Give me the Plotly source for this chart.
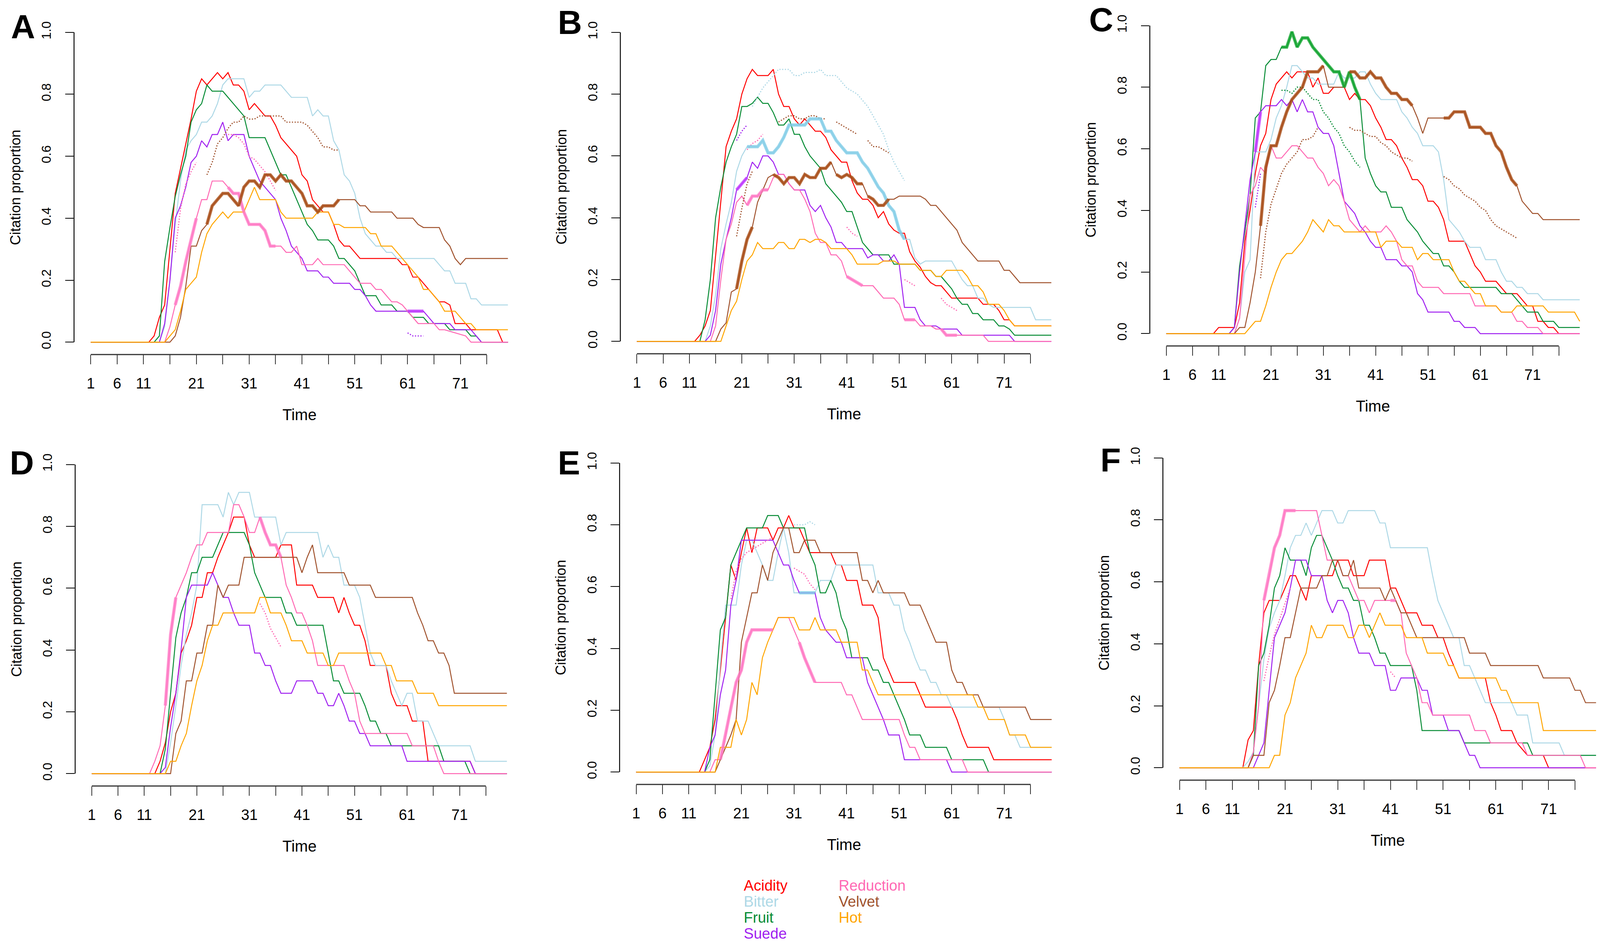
import numpy as np
import plotly.graph_objects as go

W, H = 4279, 2433
S = 1 / 1.05  # css-px to screen-px compensation for sizes

SERIES = ["Acidity", "Bitter", "Fruit", "Suede", "Reduction", "Velvet", "Hot"]
COLORS = ["#FF0000", "#ADD8E6", "#078C35", "#A020F0", "#FF69B4", "#A0522D", "#FFA500"]
THICK_COLORS = ["#FF0000", "#7FCDE8", "#0FA52C", "#C23BFF", "#FF7AC6", "#A84A12", "#FFA500"]

X_TICKS = [1, 6, 11, 16, 21, 26, 31, 36, 41, 46, 51, 56, 61, 66, 71, 76]
X_LABELS = ["1", "6", "11", "", "21", "", "31", "", "41", "", "51", "", "61", "", "71", ""]
Y_TICKS = [0, 0.2, 0.4, 0.6, 0.8, 1.0]
Y_LABELS = ["0.0", "0.2", "0.4", "0.6", "0.8", "1.0"]

# ---------------- Panel A ----------------
A_acidity = [(1,0),(12,0),(13,0.02),(14,0.08),(15,0.12),(16,0.30),(17,0.48),(18,0.56),(19,0.64),(20,0.72),(21,0.81),(22,0.85),(23,0.83),(24,0.85),(25,0.87),(26,0.85),(27,0.87),(28,0.83),(29,0.83),(30,0.81),(31,0.75),(32,0.77),(33,0.75),(34,0.73),(35,0.73),(36,0.70),(37,0.66),(38,0.64),(39,0.62),(40,0.60),(41,0.54),(42,0.52),(43,0.46),(44,0.44),(45,0.42),(46,0.42),(47,0.38),(48,0.33),(49,0.31),(50,0.31),(51,0.29),(52,0.27),(59,0.27),(60,0.25),(61,0.25),(62,0.21),(63,0.21),(64,0.19),(65,0.17),(66,0.15),(67,0.13),(68,0.13),(69,0.12),(70,0.06),(72,0.06),(73,0.04),(78,0.04),(79,0),(80,0)]
A_bitter = [(1,0),(14,0),(15,0.05),(16,0.20),(17,0.38),(18,0.52),(19,0.62),(20,0.65),(21,0.67),(22,0.71),(23,0.71),(24,0.73),(25,0.77),(26,0.83),(27,0.85),(30,0.85),(31,0.79),(32,0.81),(33,0.81),(34,0.83),(37,0.83),(38,0.81),(39,0.79),(42,0.79),(43,0.73),(44,0.75),(45,0.73),(46,0.73),(47,0.65),(48,0.62),(49,0.54),(50,0.52),(51,0.48),(52,0.40),(53,0.35),(54,0.33),(55,0.31),(56,0.31),(57,0.29),(58,0.29),(59,0.27),(66,0.27),(67,0.25),(68,0.23),(69,0.23),(70,0.19),(72,0.19),(73,0.14),(74,0.14),(75,0.12),(80,0.12)]
A_fruit = [(1,0),(13,0),(14,0.02),(15,0.26),(16,0.37),(17,0.47),(18,0.54),(19,0.60),(20,0.71),(21,0.75),(22,0.77),(23,0.83),(24,0.81),(26,0.81),(27,0.79),(28,0.77),(29,0.75),(30,0.73),(31,0.66),(34,0.66),(35,0.62),(36,0.58),(37,0.54),(38,0.54),(39,0.50),(40,0.46),(41,0.42),(42,0.38),(43,0.36),(44,0.33),(46,0.33),(47,0.31),(48,0.27),(49,0.27),(50,0.25),(51,0.23),(52,0.19),(53,0.15),(55,0.15),(56,0.12),(58,0.12),(59,0.10),(61,0.10),(62,0.08),(64,0.08),(65,0.06),(68,0.06),(69,0.04),(72,0.04),(73,0.02),(74,0.02),(75,0),(80,0)]
A_suede = [(1,0),(14,0),(15,0.06),(16,0.20),(17,0.40),(18,0.44),(19,0.50),(20,0.58),(21,0.60),(22,0.65),(23,0.63),(24,0.67),(25,0.67),(26,0.71),(27,0.65),(28,0.67),(30,0.67),(31,0.60),(32,0.56),(33,0.52),(34,0.50),(35,0.48),(36,0.46),(37,0.40),(38,0.36),(39,0.31),(40,0.29),(41,0.27),(42,0.23),(44,0.23),(45,0.21),(46,0.21),(47,0.19),(50,0.19),(51,0.17),(52,0.17),(53,0.15),(54,0.12),(55,0.10),(64,0.10),(65,0.08),(66,0.06),(69,0.06),(70,0.04),(73,0.04),(74,0.02),(75,0),(80,0)]
A_reduction = [(1,0),(15,0),(16,0.05),(17,0.12),(18,0.18),(19,0.26),(20,0.33),(21,0.40),(22,0.46),(23,0.46),(24,0.52),(26,0.52),(27,0.50),(28,0.48),(29,0.48),(30,0.42),(31,0.38),(33,0.38),(34,0.36),(35,0.31),(37,0.31),(38,0.29),(39,0.29),(40,0.31),(41,0.25),(43,0.25),(44,0.27),(45,0.25),(49,0.25),(50,0.23),(51,0.21),(52,0.19),(54,0.19),(55,0.17),(56,0.17),(57,0.15),(58,0.13),(59,0.13),(60,0.12),(61,0.10),(62,0.08),(63,0.06),(66,0.06),(67,0.04),(68,0.04),(72,0.02),(73,0),(80,0)]
A_velvet = [(1,0),(16,0),(17,0.02),(18,0.08),(19,0.18),(20,0.31),(21,0.31),(22,0.36),(23,0.38),(24,0.44),(25,0.46),(26,0.48),(27,0.48),(28,0.46),(29,0.44),(30,0.50),(31,0.52),(32,0.52),(33,0.50),(34,0.54),(35,0.54),(36,0.52),(37,0.54),(38,0.52),(39,0.52),(40,0.50),(41,0.48),(42,0.44),(43,0.44),(44,0.42),(45,0.44),(47,0.44),(48,0.46),(51,0.46),(52,0.44),(53,0.44),(54,0.42),(58,0.42),(59,0.40),(62,0.40),(63,0.38),(64,0.37),(67,0.37),(68,0.33),(69,0.31),(70,0.27),(71,0.25),(72,0.27),(80,0.27)]
A_hot = [(1,0),(15,0),(16,0.02),(17,0.04),(18,0.10),(19,0.17),(20,0.19),(21,0.21),(22,0.29),(23,0.35),(24,0.38),(25,0.40),(26,0.42),(27,0.40),(28,0.42),(30,0.42),(31,0.46),(32,0.50),(33,0.46),(36,0.46),(37,0.42),(38,0.40),(43,0.40),(44,0.42),(46,0.42),(47,0.38),(48,0.38),(49,0.37),(53,0.37),(54,0.35),(55,0.35),(56,0.31),(58,0.31),(59,0.29),(60,0.27),(61,0.25),(62,0.23),(63,0.21),(64,0.17),(65,0.17),(66,0.15),(67,0.13),(68,0.10),(70,0.10),(71,0.08),(72,0.06),(73,0.06),(74,0.04),(80,0.04)]
A_thick = [("Reduction", 17, 21), ("Reduction", 27, 36), ("Velvet", 23, 48), ("Suede", 61, 64)]
A_velvet_dot = [(23,0.54),(24,0.58),(25,0.64),(26,0.66),(27,0.69),(28,0.71),(29,0.71),(30,0.73),(31,0.72),(32,0.72),(33,0.73),(34,0.73),(35,0.73),(36,0.73),(37,0.73),(38,0.71),(39,0.71),(40,0.71),(41,0.71),(42,0.70),(43,0.68),(44,0.66),(45,0.63),(46,0.63),(47,0.62),(48,0.62)]
A_reduction_dot1 = [(17,0.29),(18,0.43),(19,0.51),(20,0.55),(21,0.58)]
A_reduction_dot2 = [(27,0.67),(28,0.67),(29,0.66),(30,0.64),(31,0.60),(32,0.59),(33,0.57),(34,0.55),(35,0.52),(36,0.49)]
A_suede_dot = [(61,0.03),(62,0.02),(63,0.02),(64,0.02)]
A_dots = [("Velvet", A_velvet_dot), ("Reduction", A_reduction_dot1), ("Reduction", A_reduction_dot2), ("Suede", A_suede_dot)]

# ---------------- Panel B ----------------
B_acidity = [(1,0),(12,0),(13,0.02),(14,0.05),(15,0.10),(16,0.28),(17,0.45),(18,0.63),(19,0.68),(20,0.72),(21,0.80),(22,0.85),(23,0.88),(24,0.86),(26,0.86),(27,0.88),(28,0.80),(29,0.76),(30,0.76),(31,0.72),(32,0.70),(33,0.72),(34,0.70),(35,0.68),(36,0.68),(37,0.66),(38,0.62),(39,0.60),(40,0.58),(41,0.58),(42,0.52),(43,0.48),(44,0.46),(45,0.46),(46,0.44),(47,0.40),(48,0.42),(49,0.38),(50,0.36),(51,0.35),(52,0.35),(53,0.29),(54,0.26),(55,0.24),(56,0.21),(57,0.19),(58,0.18),(59,0.18),(60,0.16),(61,0.14),(66,0.14),(67,0.12),(69,0.12),(70,0.10),(71,0.07),(72,0.07),(73,0.05),(80,0.05)]
B_bitter = [(1,0),(14,0),(15,0.05),(16,0.15),(17,0.30),(18,0.38),(19,0.45),(20,0.55),(21,0.60),(22,0.63),(24,0.63),(25,0.65),(26,0.61),(27,0.61),(28,0.63),(29,0.66),(30,0.70),(33,0.70),(34,0.72),(36,0.72),(37,0.68),(38,0.68),(39,0.65),(40,0.63),(41,0.61),(43,0.61),(44,0.58),(45,0.56),(46,0.53),(47,0.50),(48,0.48),(49,0.44),(50,0.42),(51,0.36),(52,0.33),(53,0.33),(54,0.27),(55,0.25),(56,0.26),(61,0.26),(62,0.23),(63,0.20),(64,0.18),(65,0.18),(66,0.14),(67,0.14),(68,0.12),(69,0.11),(76,0.11),(77,0.07),(80,0.07)]
B_fruit = [(1,0),(13,0),(14,0.07),(15,0.20),(16,0.40),(17,0.50),(18,0.58),(19,0.63),(20,0.67),(21,0.76),(22,0.76),(23,0.77),(24,0.79),(25,0.77),(26,0.77),(27,0.74),(28,0.70),(29,0.70),(30,0.72),(31,0.67),(32,0.67),(33,0.63),(34,0.60),(35,0.58),(36,0.56),(37,0.51),(38,0.49),(39,0.47),(40,0.45),(41,0.42),(42,0.42),(43,0.37),(44,0.32),(45,0.30),(46,0.28),(49,0.28),(50,0.25),(54,0.25),(55,0.23),(57,0.23),(58,0.21),(59,0.21),(60,0.19),(61,0.17),(62,0.14),(63,0.12),(64,0.12),(65,0.09),(66,0.09),(67,0.07),(69,0.07),(70,0.05),(71,0.05),(72,0.04),(73,0.02),(80,0.02)]
B_suede = [(1,0),(14,0),(15,0.02),(16,0.10),(17,0.25),(18,0.33),(19,0.40),(20,0.49),(21,0.51),(22,0.53),(23,0.58),(24,0.56),(25,0.60),(26,0.60),(27,0.58),(28,0.54),(29,0.54),(30,0.51),(31,0.49),(33,0.49),(34,0.44),(35,0.42),(36,0.44),(37,0.40),(38,0.37),(39,0.32),(40,0.32),(41,0.30),(44,0.30),(45,0.27),(46,0.28),(47,0.28),(48,0.26),(49,0.26),(50,0.28),(51,0.25),(52,0.11),(54,0.11),(55,0.07),(56,0.05),(58,0.05),(59,0.04),(62,0.04),(63,0.02),(72,0.02),(73,0),(80,0)]
B_reduction = [(1,0),(15,0),(16,0.05),(17,0.20),(18,0.33),(19,0.38),(20,0.45),(21,0.47),(22,0.44),(23,0.47),(24,0.47),(25,0.49),(26,0.49),(27,0.53),(28,0.54),(29,0.54),(30,0.51),(31,0.49),(32,0.49),(33,0.46),(34,0.42),(35,0.35),(36,0.32),(37,0.32),(38,0.28),(39,0.28),(40,0.26),(41,0.21),(42,0.20),(43,0.19),(44,0.18),(46,0.18),(47,0.16),(48,0.14),(50,0.14),(51,0.12),(52,0.07),(54,0.07),(55,0.05),(57,0.05),(58,0.04),(59,0.04),(60,0.02),(67,0.02),(68,0),(80,0)]
B_velvet = [(1,0),(16,0),(17,0.04),(18,0.06),(19,0.16),(20,0.17),(21,0.26),(22,0.33),(23,0.37),(24,0.45),(25,0.49),(26,0.53),(27,0.54),(28,0.53),(29,0.51),(30,0.53),(31,0.53),(32,0.51),(33,0.54),(34,0.53),(35,0.53),(36,0.56),(37,0.56),(38,0.58),(39,0.54),(40,0.53),(41,0.54),(42,0.53),(43,0.51),(44,0.51),(45,0.47),(46,0.46),(47,0.44),(48,0.44),(49,0.46),(50,0.46),(51,0.47),(55,0.47),(56,0.46),(57,0.44),(58,0.44),(59,0.42),(60,0.40),(61,0.38),(62,0.36),(63,0.32),(64,0.30),(65,0.28),(66,0.26),(70,0.26),(71,0.23),(72,0.23),(73,0.21),(74,0.19),(80,0.19)]
B_hot = [(1,0),(17,0),(18,0.05),(19,0.10),(20,0.13),(21,0.20),(22,0.26),(23,0.28),(24,0.32),(25,0.30),(27,0.30),(28,0.32),(29,0.32),(30,0.30),(31,0.30),(32,0.33),(33,0.33),(34,0.32),(35,0.33),(36,0.33),(37,0.32),(38,0.30),(41,0.30),(42,0.28),(43,0.25),(47,0.25),(48,0.26),(50,0.26),(51,0.25),(54,0.25),(55,0.23),(57,0.23),(58,0.21),(59,0.21),(60,0.23),(63,0.23),(64,0.21),(65,0.18),(66,0.18),(67,0.16),(68,0.12),(70,0.12),(71,0.10),(72,0.07),(73,0.05),(80,0.05)]
B_thick = [("Bitter", 22, 52), ("Suede", 20, 22), ("Reduction", 22, 26), ("Reduction", 41, 44), ("Reduction", 52, 54), ("Reduction", 59, 62), ("Velvet", 20, 23), ("Velvet", 27, 38), ("Velvet", 39, 44), ("Velvet", 45, 49)]
B_bitter_dot = [(23,0.76),(24,0.79),(25,0.82),(26,0.84),(27,0.86),(28,0.88),(30,0.88),(31,0.86),(32,0.86),(33,0.87),(35,0.87),(36,0.88),(37,0.86),(39,0.86),(40,0.84),(41,0.82),(42,0.81),(43,0.80),(44,0.78),(45,0.76),(46,0.73),(47,0.70),(48,0.67),(49,0.62),(50,0.58),(51,0.55),(52,0.52)]
B_velvet_dot1 = [(20,0.34),(21,0.43),(22,0.51),(23,0.55)]
B_velvet_dot2 = [(28,0.71),(29,0.72),(30,0.73),(31,0.73),(32,0.72),(33,0.72),(34,0.73),(35,0.73),(36,0.72),(37,0.72)]
B_velvet_dot3 = [(39,0.71),(40,0.70),(41,0.69),(42,0.68),(43,0.67)]
B_velvet_dot4 = [(45,0.65),(46,0.63),(47,0.63),(48,0.62),(49,0.61)]
B_suede_dot = [(20,0.65),(21,0.68),(22,0.70)]
B_reduction_dot1 = [(22,0.62),(23,0.64),(24,0.65),(25,0.67)]
B_reduction_dot2 = [(41,0.37),(42,0.35),(43,0.34)]
B_reduction_dot3 = [(52,0.20),(53,0.19),(54,0.18)]
B_reduction_dot4 = [(59,0.14),(60,0.12),(61,0.11),(62,0.10)]
B_dots = [("Bitter", B_bitter_dot), ("Velvet", B_velvet_dot1), ("Velvet", B_velvet_dot2), ("Velvet", B_velvet_dot3), ("Velvet", B_velvet_dot4), ("Suede", B_suede_dot), ("Reduction", B_reduction_dot1), ("Reduction", B_reduction_dot2), ("Reduction", B_reduction_dot3), ("Reduction", B_reduction_dot4)]

# ---------------- Panel C ----------------
C_acidity = [(1,0),(10,0),(11,0.02),(14,0.02),(15,0.10),(16,0.30),(17,0.40),(18,0.52),(19,0.61),(20,0.65),(21,0.76),(22,0.81),(23,0.83),(24,0.85),(25,0.83),(26,0.85),(28,0.85),(29,0.80),(30,0.83),(31,0.78),(32,0.78),(33,0.80),(35,0.80),(36,0.76),(37,0.78),(38,0.76),(39,0.76),(40,0.74),(41,0.70),(42,0.67),(43,0.63),(44,0.63),(45,0.61),(46,0.57),(47,0.54),(48,0.50),(49,0.50),(50,0.48),(51,0.43),(52,0.43),(53,0.41),(54,0.37),(55,0.30),(58,0.30),(59,0.26),(60,0.22),(61,0.20),(62,0.17),(64,0.17),(65,0.15),(66,0.13),(68,0.13),(69,0.11),(70,0.09),(71,0.09),(72,0.04),(73,0.04),(74,0.02),(75,0.02),(76,0),(80,0)]
C_bitter = [(1,0),(14,0),(15,0.05),(16,0.20),(17,0.24),(18,0.59),(20,0.59),(21,0.63),(22,0.70),(23,0.74),(24,0.80),(25,0.87),(26,0.87),(27,0.85),(28,0.83),(29,0.83),(30,0.81),(33,0.81),(34,0.85),(35,0.83),(37,0.83),(38,0.85),(39,0.85),(40,0.81),(41,0.78),(42,0.76),(45,0.76),(46,0.72),(47,0.70),(48,0.67),(49,0.65),(50,0.61),(52,0.61),(53,0.59),(54,0.50),(55,0.37),(56,0.35),(57,0.33),(58,0.30),(59,0.28),(61,0.28),(62,0.24),(64,0.24),(65,0.20),(66,0.17),(67,0.17),(68,0.15),(69,0.15),(70,0.13),(72,0.13),(73,0.11),(80,0.11)]
C_fruit = [(1,0),(13,0),(14,0.02),(15,0.22),(16,0.33),(17,0.45),(18,0.70),(19,0.72),(20,0.87),(21,0.89),(22,0.89),(23,0.93),(24,0.93),(25,0.98),(26,0.93),(27,0.96),(28,0.96),(29,0.93),(30,0.91),(31,0.89),(32,0.87),(33,0.85),(34,0.85),(35,0.80),(36,0.85),(37,0.80),(38,0.76),(39,0.57),(40,0.52),(41,0.48),(42,0.46),(43,0.46),(44,0.41),(46,0.41),(47,0.37),(48,0.35),(49,0.33),(50,0.30),(51,0.28),(52,0.26),(53,0.26),(54,0.22),(55,0.22),(56,0.20),(57,0.17),(58,0.15),(64,0.15),(65,0.13),(67,0.13),(68,0.11),(69,0.09),(70,0.07),(72,0.07),(73,0.04),(75,0.04),(76,0.02),(80,0.02)]
C_suede = [(1,0),(13,0),(14,0.02),(15,0.20),(16,0.35),(17,0.50),(18,0.59),(19,0.72),(20,0.74),(22,0.74),(23,0.76),(24,0.74),(25,0.76),(26,0.72),(27,0.76),(28,0.72),(29,0.72),(30,0.67),(31,0.65),(32,0.65),(33,0.61),(34,0.52),(35,0.43),(36,0.41),(37,0.39),(38,0.35),(39,0.33),(40,0.30),(41,0.28),(42,0.28),(43,0.24),(45,0.24),(46,0.22),(47,0.22),(48,0.20),(49,0.13),(50,0.11),(51,0.07),(55,0.07),(56,0.04),(57,0.04),(58,0.02),(60,0.02),(61,0),(80,0)]
C_reduction = [(1,0),(14,0),(15,0.05),(16,0.25),(17,0.45),(18,0.48),(19,0.54),(20,0.52),(21,0.61),(22,0.57),(23,0.57),(24,0.59),(25,0.61),(26,0.61),(27,0.59),(28,0.57),(29,0.57),(30,0.54),(31,0.52),(32,0.48),(33,0.50),(34,0.48),(35,0.43),(36,0.37),(37,0.35),(38,0.33),(39,0.35),(40,0.33),(42,0.33),(43,0.35),(44,0.33),(45,0.30),(46,0.24),(47,0.22),(48,0.22),(49,0.17),(50,0.15),(53,0.15),(54,0.13),(59,0.13),(60,0.09),(64,0.09),(65,0.07),(67,0.07),(68,0.04),(69,0.04),(70,0.02),(72,0.02),(73,0),(80,0)]
C_velvet = [(1,0),(14,0),(15,0.02),(16,0.02),(17,0.10),(18,0.20),(19,0.35),(20,0.54),(21,0.61),(22,0.61),(23,0.67),(24,0.72),(25,0.76),(26,0.78),(27,0.80),(28,0.85),(30,0.85),(31,0.87),(32,0.80),(35,0.80),(36,0.85),(37,0.85),(38,0.83),(39,0.83),(40,0.85),(41,0.83),(42,0.83),(43,0.80),(44,0.78),(45,0.78),(46,0.76),(47,0.76),(48,0.74),(49,0.70),(50,0.65),(51,0.70),(55,0.70),(56,0.72),(58,0.72),(59,0.67),(61,0.67),(62,0.65),(63,0.65),(64,0.61),(65,0.59),(66,0.54),(67,0.50),(68,0.48),(69,0.43),(70,0.41),(71,0.39),(72,0.39),(73,0.37),(80,0.37)]
C_hot = [(1,0),(16,0),(17,0.02),(18,0.04),(19,0.04),(20,0.09),(21,0.15),(22,0.20),(23,0.24),(24,0.26),(25,0.26),(26,0.28),(27,0.30),(28,0.33),(29,0.37),(30,0.35),(31,0.33),(32,0.37),(33,0.35),(34,0.35),(35,0.33),(41,0.33),(42,0.28),(43,0.30),(45,0.30),(46,0.28),(48,0.28),(49,0.24),(50,0.26),(51,0.26),(52,0.24),(55,0.24),(56,0.20),(57,0.17),(58,0.17),(59,0.15),(60,0.13),(61,0.13),(62,0.09),(64,0.09),(65,0.07),(67,0.07),(68,0.09),(73,0.09),(74,0.07),(79,0.07),(80,0.04)]
C_thick = [("Fruit", 23, 38), ("Velvet", 19, 31), ("Velvet", 36, 48), ("Velvet", 54, 68), ("Suede", 18, 19)]
C_fruit_dot = [(23,0.79),(24,0.79),(25,0.78),(26,0.80),(27,0.80),(28,0.78),(29,0.76),(30,0.76),(31,0.72),(32,0.70),(33,0.67),(34,0.65),(35,0.61),(36,0.59),(37,0.56),(38,0.54)]
C_velvet_dot1 = [(19,0.18),(20,0.33),(21,0.42),(22,0.47),(23,0.52),(24,0.55),(25,0.57),(26,0.59),(27,0.63),(28,0.63),(29,0.64),(30,0.67)]
C_velvet_dot2 = [(36,0.67),(37,0.66),(38,0.66),(39,0.65),(40,0.64),(41,0.64),(42,0.62),(43,0.61),(44,0.59),(45,0.58),(46,0.57),(47,0.57),(48,0.56)]
C_velvet_dot3 = [(54,0.51),(55,0.50),(56,0.48),(57,0.47),(58,0.45),(59,0.44),(60,0.43),(61,0.41),(62,0.40),(63,0.37),(64,0.35),(65,0.34),(66,0.33),(67,0.32),(68,0.31)]
C_suede_dot = [(18,0.41),(19,0.52)]
C_dots = [("Fruit", C_fruit_dot), ("Velvet", C_velvet_dot1), ("Velvet", C_velvet_dot2), ("Velvet", C_velvet_dot3), ("Suede", C_suede_dot)]

# ---------------- Panel D ----------------
D_acidity = [(1,0),(13,0),(14,0.04),(15,0.10),(16,0.20),(17,0.26),(18,0.39),(19,0.43),(20,0.48),(21,0.57),(22,0.57),(23,0.65),(24,0.65),(25,0.70),(26,0.74),(27,0.78),(28,0.83),(30,0.83),(31,0.74),(32,0.70),(36,0.70),(37,0.74),(39,0.74),(40,0.61),(43,0.61),(44,0.57),(47,0.57),(48,0.52),(49,0.57),(50,0.52),(51,0.48),(52,0.48),(53,0.43),(54,0.35),(57,0.35),(58,0.26),(59,0.22),(61,0.22),(62,0.17),(64,0.17),(65,0.04),(73,0.04),(74,0),(80,0)]
D_bitter = [(1,0),(15,0),(16,0.10),(17,0.22),(18,0.35),(19,0.45),(20,0.52),(21,0.61),(22,0.87),(25,0.87),(26,0.83),(27,0.91),(28,0.87),(29,0.91),(31,0.91),(32,0.83),(36,0.83),(37,0.74),(38,0.78),(44,0.78),(45,0.70),(46,0.74),(47,0.70),(48,0.70),(49,0.61),(51,0.61),(52,0.57),(53,0.48),(54,0.39),(55,0.35),(57,0.35),(58,0.30),(59,0.26),(60,0.22),(61,0.26),(62,0.26),(63,0.17),(65,0.17),(66,0.13),(67,0.09),(73,0.09),(74,0.04),(80,0.04)]
D_fruit = [(1,0),(14,0),(15,0.08),(16,0.26),(17,0.44),(18,0.52),(19,0.57),(20,0.65),(21,0.65),(22,0.70),(24,0.70),(25,0.74),(26,0.78),(30,0.78),(31,0.74),(32,0.65),(33,0.61),(34,0.57),(37,0.57),(38,0.52),(39,0.52),(40,0.48),(45,0.48),(46,0.39),(47,0.30),(48,0.30),(49,0.26),(52,0.26),(53,0.22),(54,0.17),(55,0.17),(56,0.13),(57,0.13),(58,0.09),(67,0.09),(68,0.04),(72,0.04),(73,0),(80,0)]
D_suede = [(1,0),(14,0),(15,0.02),(16,0.15),(17,0.26),(18,0.40),(19,0.57),(20,0.61),(23,0.61),(24,0.65),(25,0.61),(26,0.57),(27,0.57),(28,0.52),(29,0.48),(31,0.48),(32,0.39),(33,0.39),(34,0.35),(35,0.35),(36,0.30),(37,0.26),(39,0.26),(40,0.30),(43,0.30),(44,0.26),(45,0.26),(46,0.22),(47,0.22),(48,0.26),(49,0.22),(50,0.17),(51,0.17),(52,0.13),(53,0.13),(54,0.09),(60,0.09),(61,0.04),(73,0.04),(74,0),(80,0)]
D_reduction = [(1,0),(12,0),(13,0.04),(14,0.09),(15,0.22),(16,0.45),(17,0.57),(18,0.61),(19,0.65),(20,0.70),(21,0.74),(22,0.74),(23,0.78),(27,0.78),(28,0.87),(29,0.87),(30,0.83),(31,0.78),(32,0.78),(33,0.83),(34,0.78),(35,0.74),(36,0.74),(37,0.70),(38,0.61),(39,0.57),(40,0.52),(41,0.52),(42,0.48),(43,0.43),(44,0.35),(49,0.35),(50,0.30),(51,0.26),(52,0.17),(53,0.13),(61,0.13),(62,0.09),(66,0.09),(67,0.04),(68,0),(80,0)]
D_velvet = [(1,0),(16,0),(17,0.13),(18,0.17),(19,0.30),(20,0.30),(21,0.39),(22,0.39),(23,0.48),(24,0.48),(25,0.61),(26,0.57),(27,0.61),(29,0.61),(30,0.70),(40,0.70),(41,0.65),(42,0.70),(43,0.74),(44,0.65),(49,0.65),(50,0.61),(54,0.61),(55,0.57),(62,0.57),(63,0.52),(64,0.48),(65,0.43),(66,0.43),(67,0.39),(68,0.39),(69,0.35),(70,0.26),(80,0.26)]
D_hot = [(1,0),(15,0),(16,0.04),(17,0.04),(18,0.09),(19,0.13),(20,0.22),(21,0.30),(22,0.35),(23,0.43),(24,0.48),(25,0.48),(26,0.52),(32,0.52),(33,0.57),(34,0.57),(35,0.52),(37,0.52),(38,0.48),(39,0.43),(41,0.43),(42,0.39),(45,0.39),(46,0.35),(47,0.35),(48,0.39),(56,0.39),(57,0.35),(58,0.35),(59,0.30),(62,0.30),(63,0.26),(66,0.26),(67,0.22),(80,0.22)]
D_thick = [("Reduction", 15, 17), ("Reduction", 33, 37)]
D_reduction_dot = [(33,0.55),(34,0.52),(35,0.47),(36,0.44),(37,0.41)]
D_dots = [("Reduction", D_reduction_dot)]

# ---------------- Panel E ----------------
E_acidity = [(1,0),(13,0),(14,0.04),(15,0.08),(16,0.17),(17,0.33),(18,0.50),(19,0.67),(20,0.62),(21,0.71),(22,0.79),(23,0.71),(24,0.79),(26,0.79),(27,0.75),(28,0.79),(29,0.79),(30,0.83),(31,0.79),(32,0.79),(33,0.75),(34,0.71),(38,0.71),(39,0.67),(40,0.67),(41,0.62),(43,0.62),(44,0.54),(46,0.54),(47,0.50),(48,0.37),(49,0.33),(50,0.29),(54,0.29),(55,0.25),(56,0.21),(61,0.21),(62,0.17),(63,0.12),(64,0.08),(68,0.08),(69,0.04),(80,0.04)]
E_bitter = [(1,0),(14,0),(15,0.02),(16,0.12),(17,0.35),(18,0.54),(20,0.54),(21,0.67),(22,0.75),(23,0.75),(24,0.71),(25,0.67),(26,0.62),(27,0.62),(28,0.71),(29,0.79),(30,0.71),(31,0.58),(35,0.58),(36,0.62),(38,0.62),(39,0.67),(46,0.67),(47,0.58),(49,0.58),(50,0.54),(51,0.54),(52,0.46),(53,0.42),(54,0.37),(55,0.33),(56,0.33),(57,0.29),(58,0.29),(59,0.25),(60,0.25),(61,0.21),(70,0.21),(71,0.17),(72,0.12),(73,0.12),(74,0.08),(80,0.08)]
E_fruit = [(1,0),(14,0),(15,0.04),(16,0.25),(17,0.46),(18,0.50),(19,0.67),(20,0.71),(21,0.75),(22,0.79),(25,0.79),(26,0.83),(28,0.83),(29,0.79),(33,0.79),(34,0.71),(35,0.67),(36,0.58),(37,0.58),(38,0.62),(39,0.58),(40,0.50),(41,0.46),(42,0.37),(45,0.37),(46,0.33),(47,0.33),(48,0.29),(49,0.29),(50,0.25),(51,0.21),(52,0.17),(53,0.12),(55,0.12),(56,0.08),(60,0.08),(61,0.04),(67,0.04),(68,0),(80,0)]
E_suede = [(1,0),(14,0),(15,0.08),(16,0.12),(17,0.25),(18,0.33),(19,0.54),(20,0.62),(21,0.75),(27,0.75),(28,0.71),(29,0.67),(30,0.67),(31,0.62),(32,0.58),(35,0.58),(36,0.50),(37,0.46),(39,0.42),(40,0.42),(41,0.37),(44,0.37),(45,0.29),(46,0.25),(47,0.21),(48,0.17),(49,0.12),(51,0.12),(52,0.04),(60,0.04),(61,0),(80,0)]
E_reduction = [(1,0),(15,0),(16,0.04),(17,0.04),(18,0.12),(19,0.21),(20,0.29),(21,0.33),(22,0.42),(23,0.46),(27,0.46),(28,0.50),(30,0.50),(31,0.46),(32,0.42),(33,0.37),(34,0.33),(35,0.29),(40,0.29),(41,0.25),(42,0.25),(43,0.21),(44,0.17),(51,0.17),(52,0.12),(53,0.08),(54,0.08),(55,0.04),(63,0.04),(64,0),(80,0)]
E_velvet = [(1,0),(16,0),(17,0.04),(18,0.08),(19,0.12),(20,0.17),(21,0.42),(22,0.50),(23,0.58),(24,0.58),(25,0.67),(26,0.62),(27,0.71),(28,0.75),(29,0.79),(30,0.79),(31,0.71),(32,0.71),(33,0.75),(35,0.75),(36,0.71),(43,0.71),(44,0.62),(45,0.62),(46,0.58),(47,0.62),(48,0.58),(52,0.58),(53,0.54),(55,0.54),(56,0.50),(57,0.46),(58,0.42),(60,0.42),(61,0.33),(62,0.29),(63,0.29),(64,0.25),(66,0.25),(67,0.21),(75,0.21),(76,0.17),(80,0.17)]
E_hot = [(1,0),(16,0),(17,0.08),(19,0.08),(20,0.17),(21,0.12),(22,0.17),(23,0.29),(24,0.25),(25,0.37),(26,0.42),(27,0.46),(28,0.50),(31,0.50),(32,0.46),(34,0.46),(35,0.50),(36,0.46),(39,0.46),(40,0.42),(43,0.42),(44,0.33),(45,0.33),(46,0.29),(47,0.25),(65,0.25),(66,0.21),(67,0.21),(68,0.17),(71,0.17),(72,0.12),(75,0.12),(76,0.08),(80,0.08)]
E_thick = [("Reduction", 17, 27), ("Reduction", 32, 35), ("Bitter", 32, 35)]
E_reduction_dot1 = [(19,0.56),(20,0.65),(21,0.69),(22,0.71),(23,0.72),(24,0.73),(25,0.74),(26,0.75),(27,0.76)]
E_reduction_dot2 = [(31,0.66),(32,0.65),(33,0.64),(34,0.61),(35,0.59)]
E_bitter_dot = [(31,0.80),(32,0.80),(33,0.80),(34,0.81),(35,0.80)]
E_dots = [("Reduction", E_reduction_dot1), ("Reduction", E_reduction_dot2), ("Bitter", E_bitter_dot)]

# ---------------- Panel F ----------------
F_acidity = [(1,0),(13,0),(14,0.09),(15,0.12),(16,0.33),(17,0.50),(18,0.54),(20,0.54),(21,0.58),(22,0.62),(23,0.62),(24,0.58),(25,0.54),(26,0.62),(30,0.62),(31,0.67),(33,0.67),(34,0.62),(36,0.62),(37,0.67),(40,0.67),(41,0.58),(42,0.58),(43,0.54),(44,0.50),(46,0.50),(47,0.46),(49,0.46),(50,0.42),(51,0.42),(52,0.37),(53,0.33),(54,0.29),(59,0.29),(60,0.21),(61,0.17),(62,0.12),(64,0.12),(65,0.08),(66,0.06),(67,0.04),(70,0.04),(71,0),(80,0)]
F_bitter = [(1,0),(13,0),(14,0.02),(15,0.05),(16,0.20),(17,0.35),(18,0.45),(19,0.50),(20,0.54),(21,0.62),(22,0.71),(23,0.75),(24,0.75),(25,0.79),(26,0.75),(27,0.79),(28,0.83),(30,0.83),(31,0.79),(32,0.79),(33,0.83),(38,0.83),(39,0.79),(40,0.79),(41,0.71),(48,0.71),(49,0.62),(50,0.54),(51,0.50),(52,0.46),(53,0.42),(54,0.42),(55,0.33),(56,0.33),(57,0.29),(58,0.25),(59,0.21),(64,0.21),(65,0.17),(67,0.17),(68,0.08),(73,0.08),(74,0.04),(80,0.04)]
F_fruit = [(1,0),(14,0),(15,0.04),(16,0.33),(17,0.37),(18,0.46),(19,0.58),(20,0.62),(21,0.71),(22,0.67),(24,0.67),(25,0.62),(26,0.71),(27,0.75),(28,0.75),(29,0.71),(30,0.67),(31,0.62),(32,0.58),(33,0.58),(34,0.54),(35,0.54),(36,0.46),(37,0.46),(38,0.42),(39,0.37),(40,0.37),(41,0.33),(45,0.33),(46,0.25),(47,0.12),(54,0.12),(55,0.08),(67,0.08),(68,0.04),(80,0.04)]
F_suede = [(1,0),(15,0),(16,0.04),(17,0.08),(18,0.25),(19,0.42),(20,0.46),(21,0.50),(22,0.58),(23,0.67),(25,0.67),(26,0.62),(28,0.62),(29,0.54),(30,0.50),(31,0.54),(32,0.54),(33,0.50),(34,0.42),(35,0.37),(37,0.37),(38,0.33),(40,0.33),(41,0.25),(42,0.25),(43,0.29),(46,0.29),(47,0.25),(48,0.25),(49,0.17),(51,0.17),(52,0.12),(54,0.12),(55,0.08),(56,0.04),(57,0.04),(58,0),(80,0)]
F_reduction = [(1,0),(14,0),(15,0.05),(16,0.20),(17,0.54),(18,0.62),(19,0.71),(20,0.75),(21,0.83),(27,0.83),(28,0.75),(29,0.67),(31,0.67),(32,0.62),(33,0.62),(34,0.58),(35,0.54),(36,0.54),(37,0.50),(38,0.54),(42,0.54),(43,0.50),(44,0.37),(45,0.33),(46,0.29),(47,0.21),(48,0.21),(49,0.17),(56,0.17),(57,0.12),(59,0.12),(60,0.08),(66,0.08),(67,0.04),(77,0.04),(78,0),(80,0)]
F_velvet = [(1,0),(14,0),(15,0.04),(17,0.04),(18,0.21),(19,0.25),(20,0.33),(21,0.42),(22,0.42),(23,0.50),(24,0.58),(27,0.58),(28,0.62),(29,0.62),(30,0.67),(31,0.67),(32,0.62),(33,0.62),(34,0.67),(35,0.58),(39,0.58),(40,0.54),(41,0.58),(42,0.54),(43,0.50),(44,0.50),(45,0.46),(46,0.42),(55,0.42),(56,0.37),(59,0.37),(60,0.33),(69,0.33),(70,0.29),(75,0.29),(76,0.25),(77,0.25),(78,0.21),(80,0.21)]
F_hot = [(1,0),(18,0),(19,0.04),(20,0.04),(21,0.17),(22,0.21),(23,0.29),(24,0.33),(25,0.37),(26,0.46),(27,0.42),(28,0.42),(29,0.46),(32,0.46),(33,0.42),(34,0.42),(35,0.46),(36,0.46),(37,0.42),(38,0.46),(39,0.50),(40,0.46),(43,0.46),(44,0.42),(47,0.42),(48,0.37),(51,0.37),(52,0.33),(53,0.33),(54,0.29),(61,0.29),(62,0.25),(63,0.25),(64,0.21),(69,0.21),(70,0.12),(80,0.12)]
F_thick = [("Reduction", 17, 23), ("Reduction", 41, 42)]
F_reduction_dot1 = [(17,0.28),(18,0.36),(19,0.43),(20,0.48),(21,0.53),(22,0.58)]
F_reduction_dot2 = [(41,0.31),(42,0.29)]
F_dots = [("Reduction", F_reduction_dot1), ("Reduction", F_reduction_dot2)]

PANELS = [
    ("A", [A_acidity, A_bitter, A_fruit, A_suede, A_reduction, A_velvet, A_hot], A_thick, A_dots),
    ("B", [B_acidity, B_bitter, B_fruit, B_suede, B_reduction, B_velvet, B_hot], B_thick, B_dots),
    ("C", [C_acidity, C_bitter, C_fruit, C_suede, C_reduction, C_velvet, C_hot], C_thick, C_dots),
    ("D", [D_acidity, D_bitter, D_fruit, D_suede, D_reduction, D_velvet, D_hot], D_thick, D_dots),
    ("E", [E_acidity, E_bitter, E_fruit, E_suede, E_reduction, E_velvet, E_hot], E_thick, E_dots),
    ("F", [F_acidity, F_bitter, F_fruit, F_suede, F_reduction, F_velvet, F_hot], F_thick, F_dots),
]

# Layout (pixels of the 4279x2433 picture): plot-region left, right, top, bottom, x-range max, letter position
BOXES = {
    "A": (198, 1403, 51, 908, 83.16, (62, 68)),
    "B": (1659, 2856, 51, 906, 83.16, (1524, 57)),
    "C": (3075, 4269, 34, 886, 83.16, (2945, 50)),
    "D": (201, 1400, 1158, 2013, 83.16, (58, 1185)),
    "E": (1657, 2857, 1154, 2009, 83.16, (1522, 1185)),
    "F": (3110, 4279, 1141, 1998, 80.75, (2970, 1178)),
}

def px(x):
    return x / W

def py(y):
    return 1 - y / H

def segment(points, t0, t1):
    ts = [p[0] for p in points]
    vs = [p[1] for p in points]
    xs = [t0] + [t for t in ts if t0 < t < t1] + [t1]
    ys = [float(np.interp(t, ts, vs)) for t in xs]
    return xs, ys

FONT = "Liberation Sans, Arial, Helvetica, sans-serif"
fig = go.Figure()
shapes = []
annotations = []
TICK_FONT_X = dict(family=FONT, size=40 * S, color="black")
TICK_FONT_Y = dict(family=FONT, size=35 * S, color="black")

for i, (name, series, thick, dots) in enumerate(PANELS):
    k = "" if i == 0 else str(i + 1)
    xa, ya = "x" + k, "y" + k
    L, R, T, B, xmax, (lx, ly) = BOXES[name]
    for s, pts in enumerate(series):
        fig.add_trace(go.Scatter(x=[p[0] for p in pts], y=[p[1] for p in pts], mode="lines",
                                 line=dict(color=COLORS[s], width=2.6 * S), xaxis=xa, yaxis=ya,
                                 showlegend=False, hoverinfo="skip"))
    for sname, pts in dots:
        s = SERIES.index(sname)
        fig.add_trace(go.Scatter(x=[p[0] for p in pts], y=[p[1] for p in pts], mode="lines",
                                 line=dict(color=COLORS[s], width=3.1 * S, dash="3px,4px"), xaxis=xa, yaxis=ya,
                                 showlegend=False, hoverinfo="skip"))
    for sname, t0, t1 in thick:
        s = SERIES.index(sname)
        xs, ys = segment(series[s], t0, t1)
        fig.add_trace(go.Scatter(x=xs, y=ys, mode="lines", opacity=0.8,
                                 line=dict(color=THICK_COLORS[s], width=8.5 * S), xaxis=xa, yaxis=ya,
                                 showlegend=False, hoverinfo="skip"))

    fig.layout["xaxis" + k] = dict(domain=[px(L), px(R)], range=[-2.16, xmax], anchor=ya, showgrid=False,
                                    zeroline=False, showline=False, tickmode="array", tickvals=X_TICKS,
                                    ticktext=X_LABELS, ticks="outside", ticklen=25 * S, tickwidth=2.5 * S,
                                    tickcolor="#333333", tickfont=TICK_FONT_X,
                                    ticklabelstandoff=16)
    fig.layout["yaxis" + k] = dict(domain=[py(B), py(T)], range=[-0.04, 1.04], anchor=xa, showgrid=False,
                                    zeroline=False, showline=False, tickmode="array", tickvals=Y_TICKS,
                                    ticktext=Y_LABELS, ticks="outside", ticklen=23 * S, tickwidth=2.5 * S,
                                    tickcolor="black", tickfont=TICK_FONT_Y, tickangle=-90,
                                    ticklabelstandoff=23)
    shapes.append(dict(type="line", xref=xa, yref=ya + " domain", x0=1, x1=76, y0=0, y1=0,
                       line=dict(color="#333333", width=3 * S)))
    shapes.append(dict(type="line", xref=xa + " domain", yref=ya, x0=0, x1=0, y0=0, y1=1,
                       line=dict(color="black", width=2.5 * S)))
    full_right = L + (83.16 + 2.16) * (R - L) / (xmax + 2.16)
    annotations.append(dict(text="Time", x=px((L + full_right) / 2), y=py(B + 154), xref="paper", yref="paper",
                            showarrow=False, xanchor="center", yanchor="middle",
                            font=dict(family=FONT, size=42 * S, color="black")))
    annotations.append(dict(text="Citation proportion", x=px(L - 157), y=py((T + B) / 2), xref="paper", yref="paper",
                            showarrow=False, xanchor="center", yanchor="middle", textangle=-90,
                            font=dict(family=FONT, size=38 * S, color="black")))
    annotations.append(dict(text="<b>" + name + "</b>", x=px(lx), y=py(ly), xref="paper", yref="paper",
                            showarrow=False, xanchor="center", yanchor="middle",
                            font=dict(family=FONT, size=90 * S, color="black")))

LEG_POS = [(0, 1988, 2268), (1, 1988, 2309), (2, 1988, 2350), (3, 1988, 2391),
           (4, 2242, 2268), (5, 2242, 2309), (6, 2242, 2350)]
for s, lxp, lyp in LEG_POS:
    annotations.append(dict(text=SERIES[s], x=px(lxp), y=py(lyp), xref="paper", yref="paper",
                            showarrow=False, xanchor="left", yanchor="middle", borderpad=0,
                            font=dict(family=FONT, size=40 * S, color=COLORS[s])))

fig.update_layout(autosize=True, margin=dict(l=0, r=0, t=0, b=0), paper_bgcolor="white",
                  plot_bgcolor="white", shapes=shapes, annotations=annotations, showlegend=False)
fig.write_html("out.html", default_width="100vw", default_height="100vh",
               config={"responsive": True, "displayModeBar": False},
               post_script="document.body.style.margin='0';document.body.style.overflow='hidden';"
                           "document.documentElement.style.overflow='hidden';")
